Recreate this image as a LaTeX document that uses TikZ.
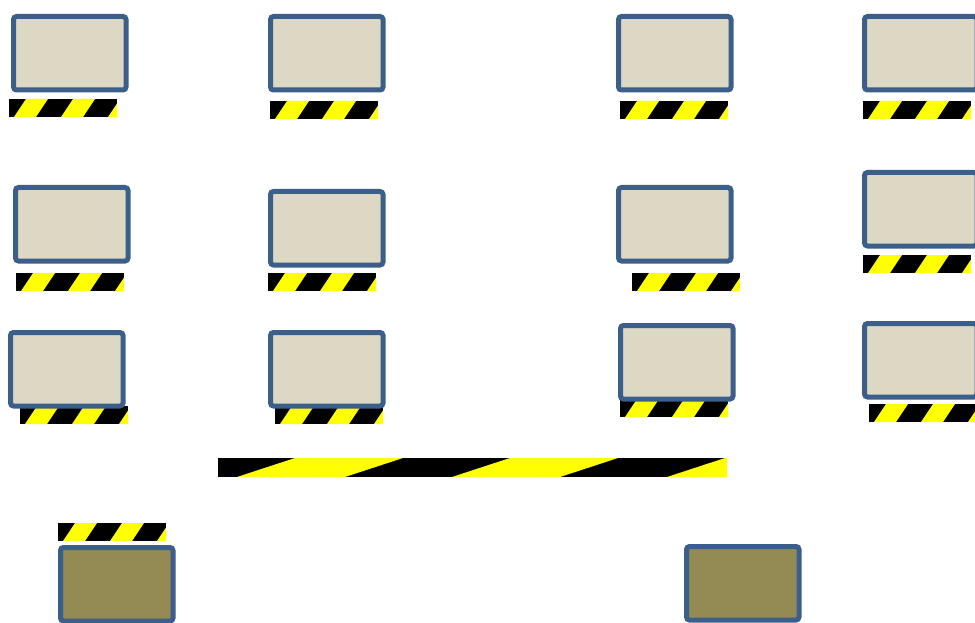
\documentclass[tikz,border=0pt]{standalone}
\usepackage{tikz}
\usetikzlibrary{positioning}
\definecolor{deskfill}{HTML}{DDD8C4}
\definecolor{deskdark}{HTML}{948A54}
\definecolor{deskedge}{HTML}{3B5E8B}
\definecolor{tapeyellow}{HTML}{FFFF00}
\tikzset{desk/.style={draw=deskedge,line width=5pt,rounded corners=3pt}}
% #1,#2 top left, #3 width, #4 height, #5 offset, #6 band, #7 period, #8 slant
\newcommand{\hazardtape}[8]{%
  \begin{scope}
    \clip (#1,#2) rectangle ++(#3,#4);
    \fill[black] (#1,#2) rectangle ++(#3,#4);
    \foreach \k in {0,...,5}{
      \pgfmathsetmacro\xa{#1+#5+#7*\k}
      \fill[tapeyellow] (\xa,#2+#4) -- ++(#6,0) -- ++(#8,-#4) -- ++(-#6,0) -- cycle;
    }
  \end{scope}}
\newcommand{\tape}[2]{\hazardtape{#1}{#2}{108}{18}{5}{22}{47}{12}}
\newcommand{\desk}[3]{\draw[desk,fill=#3] (#1+2.5,#2+2.5) rectangle ++(112.5,73.5);}

\begin{document}
\begin{tikzpicture}[x=1pt,y=-1pt]
  \useasboundingbox (0,0) rectangle (975,623);
  \clip (0,0) rectangle (975,623);
  \tape{9}{99}  \tape{270}{101}  \tape{620}{101}  \tape{863}{101}
  \tape{16}{273} \tape{268}{273} \tape{632}{273} \tape{863}{255}
  \tape{20}{406} \tape{275}{406} \tape{620}{399} \tape{869}{404}
  \tape{58}{523}
  \hazardtape{218}{458}{509}{19}{19}{108}{215}{58}
  \desk{11}{14}{deskfill}  \desk{268}{14}{deskfill}  \desk{616}{14}{deskfill}  \desk{862}{14}{deskfill}
  \desk{13}{185}{deskfill} \desk{268}{189}{deskfill} \desk{616}{185}{deskfill} \desk{862}{170}{deskfill}
  \desk{8}{330}{deskfill}  \desk{268}{330}{deskfill} \desk{618}{323}{deskfill} \desk{862}{321}{deskfill}
  \desk{58}{545}{deskdark} \desk{684}{544}{deskdark}
\end{tikzpicture}
\end{document}
